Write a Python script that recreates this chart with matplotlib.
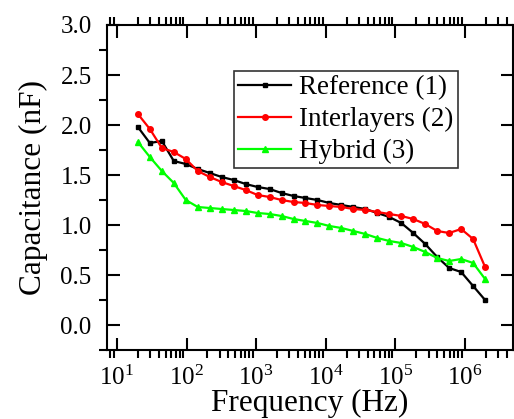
import matplotlib
matplotlib.use("Agg")
import matplotlib.pyplot as plt
from matplotlib.ticker import LogLocator, MultipleLocator, FixedLocator

plt.rcParams['font.family'] = ['Liberation Serif', 'DejaVu Serif']
plt.rcParams['mathtext.fontset'] = 'custom'
plt.rcParams['mathtext.rm'] = 'Liberation Serif'
plt.rcParams['mathtext.it'] = 'Liberation Serif:italic'

freq = [20, 29.7, 44.2, 65.6, 97.5, 144.9, 215.3, 320, 475, 706,
        1049, 1559, 2317, 3443, 5116, 7602, 11296, 16786, 24943, 37065,
        55078, 81844, 121619, 180723, 268550, 399061, 592999, 881184, 1309425, 1945761]

reference = [1.98, 1.82, 1.84, 1.64, 1.61, 1.56, 1.52, 1.48, 1.45, 1.41,
             1.38, 1.36, 1.32, 1.29, 1.27, 1.25, 1.22, 1.20, 1.18, 1.16,
             1.12, 1.08, 1.02, 0.92, 0.81, 0.68, 0.57, 0.53, 0.39, 0.25]
interlayers = [2.11, 1.96, 1.77, 1.73, 1.66, 1.54, 1.48, 1.43, 1.39, 1.35,
               1.30, 1.28, 1.25, 1.23, 1.22, 1.20, 1.19, 1.18, 1.16, 1.15,
               1.13, 1.11, 1.09, 1.06, 1.01, 0.94, 0.92, 0.96, 0.86, 0.58]
hybrid = [1.83, 1.68, 1.54, 1.42, 1.25, 1.18, 1.17, 1.16, 1.15, 1.14,
          1.12, 1.11, 1.09, 1.06, 1.04, 1.02, 0.99, 0.97, 0.94, 0.91,
          0.87, 0.84, 0.82, 0.78, 0.73, 0.67, 0.64, 0.66, 0.62, 0.46]

labels = ["Reference (1)", "Interlayers (2)", "Hybrid (3)"]
yticks = [0.0, 0.5, 1.0, 1.5, 2.0, 2.5, 3.0]

fig = plt.figure(figsize=(5.14, 4.19), dpi=100)
ax = fig.add_axes([107/514, 1-350/419, (513-107)/514, (350-25)/419])

ax.plot(freq, reference, color='black', marker='s', markersize=3.5, lw=1.6, label=labels[0])
ax.plot(freq, interlayers, color='#ff0000', marker='o', markersize=4, lw=1.6, label=labels[1])
ax.plot(freq, hybrid, color='#00ff00', marker='^', markersize=4.5, lw=1.6, label=labels[2])

ax.set_xscale('log')
ax.set_xlim(7.2, 4.9e6)
ax.set_ylim(-0.25, 3.0)
ax.yaxis.set_major_locator(FixedLocator(yticks))
ax.yaxis.set_minor_locator(MultipleLocator(0.25))
ax.set_yticklabels([f"{v:.1f}" for v in yticks])
ax.xaxis.set_major_locator(LogLocator(base=10, numticks=10))
ax.xaxis.set_minor_locator(LogLocator(base=10, subs=range(2, 10), numticks=20))

for s in ax.spines.values():
    s.set_linewidth(1.5)
ax.tick_params(which='major', direction='in', length=9, width=1.5, labelsize=18,
               top=True, right=True)
ax.tick_params(axis='y', which='major', pad=11)
ax.tick_params(axis='x', which='major', pad=11)
ax.tick_params(which='minor', direction='out', length=5.5, width=1.5, top=True, right=True)

ax.set_xlabel("Frequency (Hz)", fontsize=22.5, labelpad=-0.5)
ax.set_ylabel("Capacitance (nF)", fontsize=22.5, labelpad=9)

leg = ax.legend(loc='upper right', bbox_to_anchor=(0.864, 0.858), borderaxespad=0,
                fontsize=19.5, frameon=True, fancybox=False, edgecolor='black',
                handlelength=1.95, handletextpad=0.3, borderpad=0.15, labelspacing=0.25)
leg.get_frame().set_linewidth(1.2)

fig.savefig("out.png", dpi=100)
